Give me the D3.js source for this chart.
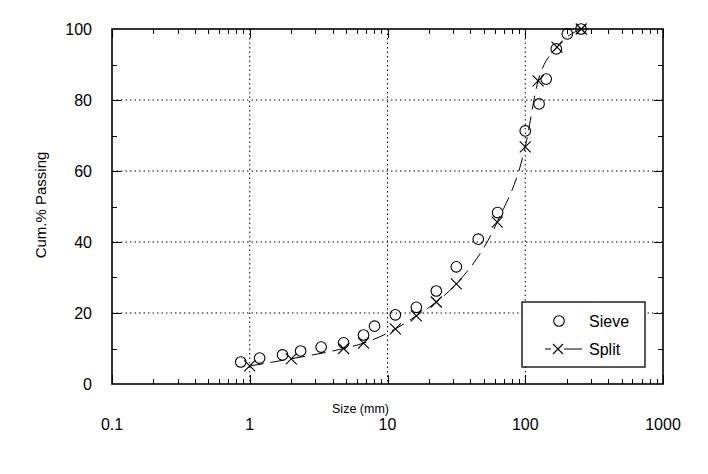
<!DOCTYPE html>
<html>
<head>
<meta charset="utf-8">
<script src="https://cdn.jsdelivr.net/npm/d3@7"></script>
<style>
  html, body { margin: 0; padding: 0; background: #fff; }
  svg text { font-family: "Liberation Sans", Arial, sans-serif; fill: #000; }
</style>
</head>
<body>
<svg id="chart" width="708" height="474"></svg>
<script>
// Sieve vs split size distribution (log x axis)
const sieveSize = [0.86, 1.18, 1.73, 2.34, 3.3, 4.8, 6.7, 8.05, 11.4, 16.2, 22.6, 31.6, 45.6, 63, 100, 126, 142, 168, 202, 254];
const sievePass = [6.2, 7.3, 8.2, 9.3, 10.4, 11.6, 13.8, 16.3, 19.5, 21.6, 26.2, 33, 40.8, 48.3, 71.3, 78.9, 85.9, 94.4, 98.6, 100];

const splitSize = [1.0, 2.0, 4.8, 6.7, 11.4, 16.2, 22.6, 31.6, 62.6, 100, 124, 170, 255];
const splitPass = [5.1, 7.1, 10.0, 11.5, 15.5, 19.2, 23.1, 28.2, 45.6, 66.8, 85.4, 94.9, 100];

const xTicks = [0.1, 1, 10, 100, 1000];
const yTicks = [0, 20, 40, 60, 80, 100];

const svg = d3.select("#chart");
const L = 112, R = 663, T = 29, B = 384;

const x = d3.scaleLog().domain([0.1, 1000]).range([L, R]);
const y = d3.scaleLinear().domain([0, 100]).range([B, T]);

// grid
const grid = svg.append("g").attr("stroke", "#000").attr("stroke-width", 1).attr("stroke-dasharray", "1.5,3");
xTicks.slice(1, -1).forEach(v => {
  grid.append("line").attr("x1", x(v)).attr("x2", x(v)).attr("y1", T).attr("y2", B);
});
yTicks.slice(1, -1).forEach(v => {
  grid.append("line").attr("x1", L).attr("x2", R).attr("y1", y(v)).attr("y2", y(v));
});

// minor ticks, inward on all four sides
const ticks = svg.append("g").attr("stroke", "#000").attr("stroke-width", 1);
const minors = [];
for (let d = 0.1; d < 1000; d *= 10) for (let k = 2; k <= 9; k++) minors.push(d * k);
minors.forEach(v => {
  const px = Math.round(x(v)) + 0.5;
  ticks.append("line").attr("x1", px).attr("x2", px).attr("y1", B).attr("y2", B - 5);
  ticks.append("line").attr("x1", px).attr("x2", px).attr("y1", T).attr("y2", T + 5);
});
xTicks.forEach(v => {
  const px = Math.round(x(v)) + 0.5;
  ticks.append("line").attr("x1", px).attr("x2", px).attr("y1", B).attr("y2", B - 9);
  ticks.append("line").attr("x1", px).attr("x2", px).attr("y1", T).attr("y2", T + 9);
});
d3.range(10, 100, 10).forEach(v => {
  const len = v % 20 === 0 ? 9 : 5;
  const py = Math.round(y(v)) + 0.5;
  ticks.append("line").attr("x1", L).attr("x2", L + len).attr("y1", py).attr("y2", py);
  ticks.append("line").attr("x1", R).attr("x2", R - len).attr("y1", py).attr("y2", py);
});

// frame
svg.append("rect").attr("x", L).attr("y", T).attr("width", R - L).attr("height", B - T)
  .attr("fill", "none").attr("stroke", "#000").attr("stroke-width", 1.6);

// tick labels
svg.append("g").selectAll("text").data(xTicks).join("text")
  .attr("x", d => x(d)).attr("y", 430).attr("text-anchor", "middle")
  .attr("font-size", 16).text(d => d3.format("~g")(d));
svg.append("g").selectAll("text").data(yTicks).join("text")
  .attr("x", 92).attr("y", d => y(d) + 6).attr("text-anchor", "end")
  .attr("font-size", 16).text(d => d);

// axis titles
svg.append("text").attr("x", x(10) - 27).attr("y", 413).attr("text-anchor", "middle")
  .attr("font-size", 12.5).text("Size (mm)");
svg.append("text").attr("transform", "translate(46,205) rotate(-90)").attr("text-anchor", "middle")
  .attr("font-size", 15).text("Cum.% Passing");

// split curve
const split = splitSize.map((s, i) => ({ s, p: splitPass[i] }));
const line = d3.line().x(d => x(d.s)).y(d => y(d.p)).curve(d3.curveMonotoneX);
svg.append("path").datum(split).attr("d", line).attr("fill", "none")
  .attr("stroke", "#000").attr("stroke-width", 1).attr("stroke-dasharray", "14,7");

function cross(g, cx, cy, r) {
  g.append("path").attr("d", `M${cx - r},${cy - r}L${cx + r},${cy + r}M${cx - r},${cy + r}L${cx + r},${cy - r}`)
    .attr("stroke", "#000").attr("stroke-width", 1.1).attr("fill", "none");
}
const marks = svg.append("g");
split.forEach(d => cross(marks, x(d.s), y(d.p), 5.5));

// sieve circles
svg.append("g").selectAll("circle").data(sieveSize.map((s, i) => ({ s, p: sievePass[i] }))).join("circle")
  .attr("cx", d => x(d.s)).attr("cy", d => y(d.p)).attr("r", 5.3)
  .attr("fill", "none").attr("stroke", "#000").attr("stroke-width", 1.1);

// legend
const lg = svg.append("g");
lg.append("rect").attr("x", 522).attr("y", 302).attr("width", 123).attr("height", 65)
  .attr("fill", "#fff").attr("stroke", "#000").attr("stroke-width", 1.3);
lg.append("circle").attr("cx", 559).attr("cy", 321).attr("r", 5.3)
  .attr("fill", "none").attr("stroke", "#000").attr("stroke-width", 1.1);
lg.append("text").attr("x", 589).attr("y", 327).attr("font-size", 16).text("Sieve");
lg.append("line").attr("x1", 545).attr("x2", 551).attr("y1", 349).attr("y2", 349).attr("stroke", "#000");
lg.append("line").attr("x1", 564).attr("x2", 582).attr("y1", 349).attr("y2", 349).attr("stroke", "#000");
cross(lg, 558, 349, 5);
lg.append("text").attr("x", 589).attr("y", 355).attr("font-size", 16).text("Split");
</script>
</body>
</html>
